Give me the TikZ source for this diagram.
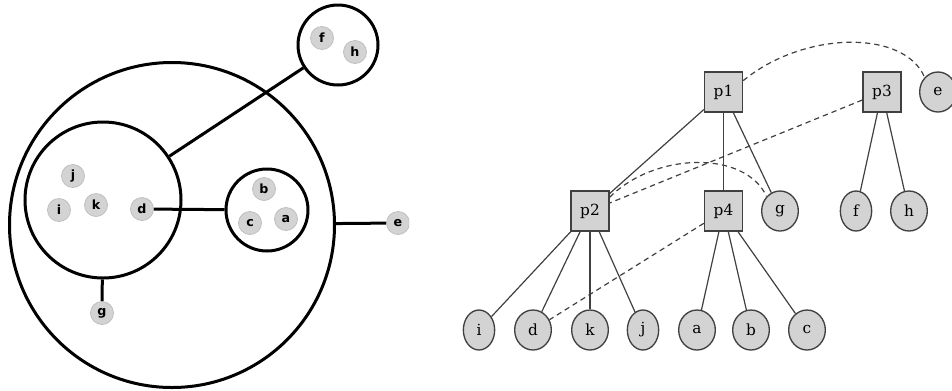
\documentclass[tikz,border=0pt]{standalone}
\usepackage{fontspec}
\setmainfont{DejaVu Serif}
\newfontfamily\lblfont{DejaVu Sans}
\usetikzlibrary{shapes.geometric}
\definecolor{nodefill}{RGB}{211,211,211}
\definecolor{edgecol}{RGB}{64,64,64}
\tikzset{
  grp/.style={circle, draw=black, line width=2.25pt, inner sep=0pt},
  grpline/.style={draw=black, line width=2.25pt},
  sleaf/.style={circle, fill=nodefill, draw=black!25, line width=0.6pt, minimum size=17.25pt, inner sep=0pt, font=\lblfont\bfseries\fontsize{9.5}{11}\selectfont},
  pbox/.style={rectangle, fill=nodefill, draw=edgecol, line width=1pt, minimum width=28.5pt, minimum height=30pt, inner sep=0pt, font=\fontsize{11.5}{13}\selectfont},
  tleaf/.style={ellipse, fill=nodefill, draw=edgecol, line width=1pt, minimum width=27.5pt, minimum height=30pt, inner sep=0pt, font=\fontsize{11.5}{13}\selectfont},
  nleaf/.style={tleaf, minimum width=23.5pt},
  tedge/.style={draw=edgecol, line width=0.9pt},
  dedge/.style={draw=edgecol, line width=0.9pt, dash pattern=on 4pt off 3pt},
}
\begin{document}
\begin{tikzpicture}[x=0.75pt, y=-0.75pt]
\useasboundingbox (0,0) rectangle (952,390);
% ---------- left: nested circles ----------
\begin{scope}
\clip (0,0) rectangle (409,390);
\node[grp, minimum size=243.75pt] (G) at (172,225) {};
\node[grp, minimum size=117pt] (G2) at (103,200) {};
\node[grp, minimum size=61.5pt] (G4) at (267,210) {};
\node[grp, minimum size=60pt] (G3) at (338,45) {};
\node[sleaf] (lf) at (322,38) {f};
\node[sleaf] (lh) at (355,52) {h};
\node[sleaf] (lj) at (73,176) {j};
\node[sleaf] (li) at (59,210) {i};
\node[sleaf] (lk) at (96,205) {k};
\node[sleaf] (ld) at (142,209) {d};
\node[sleaf] (lb) at (264,189) {b};
\node[sleaf] (lc) at (250,223) {c};
\node[sleaf] (la) at (286,219) {a};
\node[sleaf] (le) at (398,223) {e};
\node[sleaf] (lg) at (102,313) {g};
\draw[grpline] (G3) -- (G2);
\draw[grpline] (ld) -- (G4);
\draw[grpline] (G) -- (le);
\draw[grpline] (G2) -- (lg);
\end{scope}
% ---------- right: tree ----------
\node[pbox] (p1) at (723.5,92) {p1};
\node[pbox] (p3) at (882,92) {p3};
\node[tleaf] (e) at (938,92) {e};
\node[pbox] (p2) at (590,211) {p2};
\node[pbox] (p4) at (723.5,211) {p4};
\node[tleaf] (g) at (780,211) {g};
\node[nleaf] (f) at (856,211) {f};
\node[tleaf] (h) at (909,211) {h};
\node[nleaf] (i) at (479,330) {i};
\node[tleaf] (d) at (533,330) {d};
\node[tleaf] (k) at (590,330) {k};
\node[nleaf] (j) at (643,330) {j};
\node[tleaf] (a) at (697,330) {a};
\node[tleaf] (b) at (751,330) {b};
\node[tleaf] (c) at (807,330) {c};
\draw[tedge] (p1) -- (p2);
\draw[tedge] (p1) -- (p4);
\draw[tedge] (p1) -- (g);
\draw[tedge] (p3) -- (f);
\draw[tedge] (p3) -- (h);
\draw[tedge] (p2) -- (i);
\draw[tedge] (p2) -- (d);
\draw[tedge] (p2) -- (k);
\draw[tedge] (p2) -- (j);
\draw[tedge] (p4) -- (a);
\draw[tedge] (p4) -- (b);
\draw[tedge] (p4) -- (c);
\draw[dedge] (p1.30) .. controls (805,30) and (905,30) .. (e.north west);
\draw[dedge] (p3) -- (p2);
\draw[dedge] (p2.35) .. controls (655,152) and (745,150) .. (g.north west);
\draw[dedge] (p4) -- (d);
\end{tikzpicture}
\end{document}
